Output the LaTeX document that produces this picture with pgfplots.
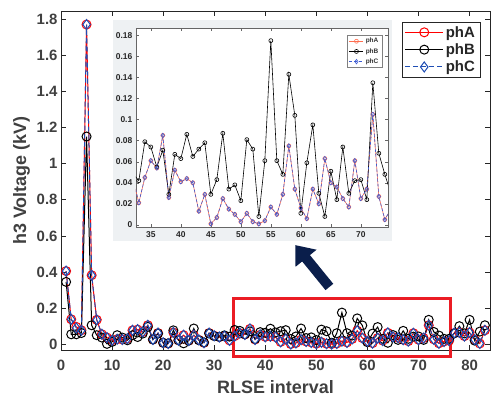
\documentclass[border=0pt]{standalone}
\usepackage{fontspec}
\setmainfont{Liberation Sans}
\usepackage{pgfplots}
\usepackage{pgfplotstable}
\pgfplotsset{compat=1.18}
\usetikzlibrary{arrows.meta}

\definecolor{txt}{RGB}{64,64,64}
\definecolor{axc}{RGB}{38,38,38}
\definecolor{phAc}{RGB}{255,0,0}
\definecolor{phCc}{RGB}{31,78,180}
\definecolor{inA}{RGB}{255,110,80}
\definecolor{inC}{RGB}{60,90,210}
\definecolor{arrowc}{RGB}{10,30,75}
\definecolor{insetbg}{RGB}{238,241,243}
\definecolor{rectc}{RGB}{235,28,36}

\pgfplotstableread{
x phA phB phC
1 0.405 0.345 0.405
2 0.138 0.055 0.138
3 0.096 0.055 0.090
4 0.077 0.062 0.077
5 1.770 1.150 1.770
6 0.382 0.105 0.382
7 0.135 0.050 0.135
8 0.055 0.037 0.055
9 0.037 0.002 0.037
10 0.022 0.013 0.022
11 0.028 0.050 0.028
12 0.026 0.037 0.026
13 0.031 0.022 0.031
14 0.077 0.050 0.077
15 0.081 0.040 0.081
16 0.068 0.059 0.068
17 0.105 0.096 0.105
18 0.026 0.026 0.026
19 0.062 0.059 0.062
20 0.008 0.008 0.008
21 0.004 0.005 0.004
22 0.065 0.077 0.065
23 0.022 0.022 0.022
24 0.050 0.005 0.050
25 0.020 0.020 0.020
26 0.050 0.087 0.050
27 0.024 0.022 0.024
28 0.008 0.010 0.008
29 0.062 0.060 0.062
30 0.047 0.045 0.047
31 0.040 0.040 0.040
32 0.045 0.049 0.045
33 0.021 0.042 0.021
34 0.045 0.079 0.045
35 0.061 0.074 0.061
36 0.054 0.055 0.054
37 0.085 0.071 0.085
38 0.026 0.029 0.026
39 0.052 0.067 0.052
40 0.041 0.063 0.041
41 0.044 0.086 0.044
42 0.040 0.065 0.040
43 0.013 0.072 0.013
44 0.029 0.078 0.029
45 0.001 0.029 0.001
46 0.007 0.043 0.007
47 0.025 0.087 0.025
48 0.015 0.034 0.015
49 0.010 0.038 0.010
50 0.003 0.023 0.003
51 0.011 0.081 0.011
52 0.003 0.072 0.003
53 0.001 0.008 0.001
54 0.004 0.061 0.004
55 0.017 0.175 0.017
56 0.010 0.061 0.010
57 0.029 0.048 0.029
58 0.075 0.143 0.075
59 0.034 0.104 0.034
60 0.016 0.011 0.016
61 0.006 0.059 0.006
62 0.034 0.095 0.034
63 0.020 0.030 0.020
64 0.063 0.008 0.063
65 0.040 0.051 0.040
66 0.036 0.024 0.036
67 0.025 0.074 0.025
68 0.017 0.030 0.017
69 0.061 0.042 0.061
70 0.025 0.043 0.025
71 0.034 0.024 0.034
72 0.105 0.135 0.105
73 0.027 0.068 0.027
74 0.005 0.048 0.005
75 0.015 0.030 0.015
76 0.020 0.030 0.020
77 0.062 0.060 0.062
78 0.065 0.100 0.065
79 0.045 0.060 0.045
80 0.065 0.135 0.065
81 0.025 0.020 0.025
82 0.004 0.070 0.004
83 0.077 0.105 0.077
}\datatab

\begin{document}
\begin{tikzpicture}
\begin{axis}[name=main,
  scale only axis, width=429bp, height=339bp,
  xmin=0, xmax=84, ymin=-0.032, ymax=1.845,
  xtick={0,10,...,80}, ytick={0,0.2,0.4,0.6,0.8,1,1.2,1.4,1.6,1.8},
  tick align=inside, tick pos=both, xticklabel pos=bottom, yticklabel pos=left,
  major tick length=5bp,
  tick style={axc, line width=0.6bp},
  axis line style={axc, line width=0.8bp},
  clip=false,
  /pgf/number format/assume math mode=true,
  ticklabel style={font=\fontsize{15}{15}\selectfont\bfseries, text=txt},
  yticklabel style={/pgf/number format/fixed, /pgf/number format/precision=1},
  xticklabel style={yshift=-7bp},
  xlabel={RLSE interval}, ylabel={h3 Voltage (kV)},
  label style={font=\fontsize{18}{18}\selectfont\bfseries, text=txt},
  xlabel style={yshift=-3bp},
  legend style={at={(0.9767,0.9676)}, anchor=north east, draw=axc,
    font=\fontsize{15}{17}\selectfont\bfseries, text=black!85,
    inner xsep=3bp, inner ysep=2bp, row sep=1bp},
  legend cell align=left,
  legend image code/.code={\draw[mark repeat=2,mark phase=2] plot coordinates {(0bp,0bp) (19bp,0bp) (38bp,0bp)};},
]
\addplot[phAc, line width=1bp, mark=o, mark size=4.5bp, mark options={solid}] table[x=x,y=phA]{\datatab};
\addplot[black, line width=1bp, mark=o, mark size=4.5bp, mark options={solid}] table[x=x,y=phB]{\datatab};
\addplot[phCc, line width=1bp, dash pattern=on 5bp off 3bp, mark=diamond, mark size=5bp, mark options={solid}] table[x=x,y=phC]{\datatab};
\legend{phA,phB,phC}
\draw[rectc, line width=2.8bp] (axis cs:33.8,-0.066) rectangle (axis cs:76.2,0.255);
\draw[arrowc, line width=10bp, -{Triangle[length=17bp,width=26bp]}] (axis cs:52.55,0.317) -- (axis cs:45.88,0.549);
\fill[insetbg] (axis cs:10.2,0.572) rectangle (axis cs:64.9,1.795);
\coordinate (insetSW) at (axis cs:14.65,0.649);
\end{axis}

\begin{axis}[at={(insetSW)}, anchor=south west,
  scale only axis, width=252bp, height=199bp,
  xmin=32.5, xmax=74.5, ymin=-0.002, ymax=0.187,
  axis background/.style={fill=white},
  xtick={35,40,...,70}, ytick={0,0.02,0.04,0.06,0.08,0.1,0.12,0.14,0.16,0.18},
  tick align=inside, tick pos=both, xticklabel pos=bottom, yticklabel pos=left,
  major tick length=3bp,
  tick style={black!60, line width=0.4bp},
  axis line style={black!60, line width=0.5bp},
  /pgf/number format/assume math mode=true,
  ticklabel style={font=\fontsize{8.5}{8.5}\selectfont\bfseries, text=black!85},
  yticklabel style={/pgf/number format/fixed, /pgf/number format/precision=2},
  xticklabel style={yshift=-1bp},
  restrict x to domain=31:76,
  legend style={at={(0.977,0.965)}, anchor=north east, draw=black!50,
    font=\fontsize{6.5}{7.5}\selectfont\bfseries, text=black!80,
    inner xsep=1.5bp, inner ysep=1bp, row sep=0bp},
  legend cell align=left,
  legend image code/.code={\draw[mark repeat=2,mark phase=2] plot coordinates {(0bp,0bp) (7bp,0bp) (14bp,0bp)};},
]
\addplot[inA, line width=0.6bp, mark=o, mark size=2bp, mark options={solid}] table[x=x,y=phA]{\datatab};
\addplot[black, line width=0.6bp, mark=o, mark size=2bp, mark options={solid}] table[x=x,y=phB]{\datatab};
\addplot[inC, line width=0.6bp, dash pattern=on 3bp off 2bp, mark=diamond, mark size=2.2bp, mark options={solid}] table[x=x,y=phC]{\datatab};
\legend{phA,phB,phC}
\end{axis}
\pgfresetboundingbox
\path[use as bounding box] ([xshift=-61bp,yshift=-47bp]main.south west) rectangle ([xshift=1bp,yshift=11bp]main.north east);
\end{tikzpicture}
\end{document}
